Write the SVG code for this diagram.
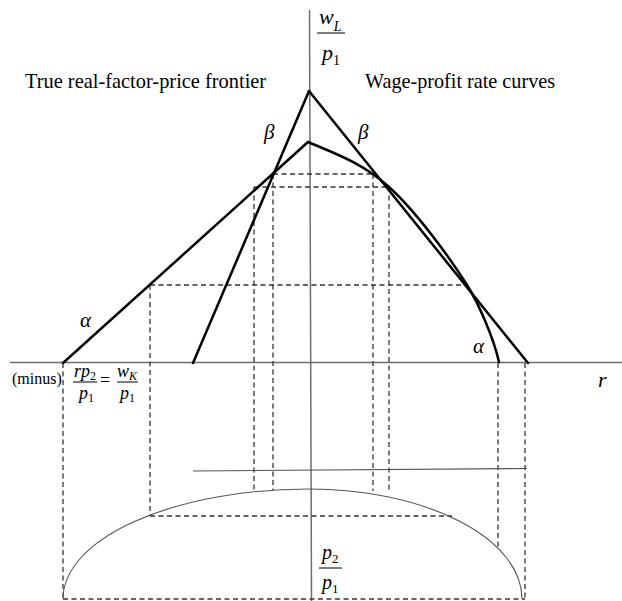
<svg xmlns="http://www.w3.org/2000/svg" width="622" height="601" viewBox="0 0 622 601">
<style>
.axis{stroke:#6e6e6e;stroke-width:1.5;fill:none}
.bold{stroke:#000;stroke-width:2.5;fill:none;stroke-linecap:round;stroke-linejoin:round}
.dash{stroke:#333;stroke-width:1.3;fill:none;stroke-dasharray:5,3.5}
.thin{stroke:#555;stroke-width:1.1;fill:none}
text{font-family:"Liberation Serif","Times New Roman",serif;fill:#000}
.it{font-style:italic}
.bar{stroke:#000;stroke-width:1}
</style>
<rect width="622" height="601" fill="#fff"/>
<g id="axes">
<line class="axis" x1="10" y1="362.5" x2="622" y2="362.5"/>
<line class="axis" x1="309.5" y1="10" x2="311.5" y2="601"/>
</g>
<g id="connectors">
<g id="dashed">
<line class="dash" x1="273" y1="174" x2="373" y2="174"/>
<line class="dash" x1="254" y1="187" x2="389" y2="187"/>
<line class="dash" x1="150" y1="285" x2="467" y2="285"/>
<line class="dash" x1="254" y1="187" x2="254" y2="491"/>
<line class="dash" x1="273" y1="174" x2="273" y2="490"/>
<line class="dash" x1="373" y1="174" x2="373" y2="491"/>
<line class="dash" x1="389" y1="187" x2="389" y2="492"/>
<line class="dash" x1="150" y1="285" x2="150" y2="516"/>
<line class="dash" x1="150" y1="516" x2="452" y2="516"/>
<line class="dash" x1="63" y1="363" x2="63" y2="599"/>
<line class="dash" x1="498" y1="363" x2="498" y2="550"/>
<line class="dash" x1="525" y1="363" x2="525" y2="599"/>
<line class="dash" x1="63" y1="599" x2="525" y2="599"/>
</g>
<g id="curves">
<line class="bold" x1="309" y1="91" x2="193" y2="363"/>
<line class="bold" x1="309" y1="91" x2="528" y2="363"/>
<line class="bold" x1="308" y1="142" x2="63" y2="363"/>
<path class="bold" d="M308,142 C335.7,153.7 362.7,163.2 389,187 C415.3,210.8 448.7,255.8 467,285 C478,302.5 493,336 499,362"/>
<line class="thin" x1="193" y1="471" x2="527" y2="468.5"/>
<path class="thin" d="M63,599 A246,110 0 0,1 309,489 A213,110 0 0,1 522,599"/>
</g>
</g>
<g id="labels">
<text x="25" y="88" font-size="20.4">True real-factor-price frontier</text>
<text x="365" y="88" font-size="20.2">Wage-profit rate curves</text>
<text x="319" y="24" font-size="22" class="it">w<tspan font-size="14" dy="7">L</tspan></text>
<line class="bar" x1="317" y1="33" x2="345" y2="33"/>
<text x="322" y="60" font-size="22" class="it">p<tspan font-size="14" dy="5" font-style="normal">1</tspan></text>
<text x="264" y="139" font-size="21" class="it">β</text>
<text x="358" y="139" font-size="21" class="it">β</text>
<text x="80" y="327" font-size="21" class="it">α</text>
<text x="473" y="353" font-size="21" class="it">α</text>
<text x="598" y="387" font-size="22" class="it">r</text>
<text x="12" y="384" font-size="16">(minus)</text>
<text x="74" y="377" font-size="18" class="it">rp<tspan font-size="12" dy="3" font-style="normal">2</tspan></text>
<line class="bar" x1="73" y1="382" x2="97" y2="382"/>
<text x="79" y="399" font-size="18" class="it">p<tspan font-size="12" dy="3" font-style="normal">1</tspan></text>
<text x="100" y="386" font-size="18">=</text>
<text x="117" y="377" font-size="18" class="it">w<tspan font-size="12" dy="3">K</tspan></text>
<line class="bar" x1="117" y1="382" x2="138" y2="382"/>
<text x="120" y="399" font-size="18" class="it">p<tspan font-size="12" dy="3" font-style="normal">1</tspan></text>
<text x="322" y="559" font-size="20" class="it">p<tspan font-size="13" dy="4" font-style="normal">2</tspan></text>
<line class="bar" x1="319" y1="568" x2="342" y2="568"/>
<text x="322" y="589" font-size="20" class="it">p<tspan font-size="13" dy="4" font-style="normal">1</tspan></text>
</g>
</svg>
